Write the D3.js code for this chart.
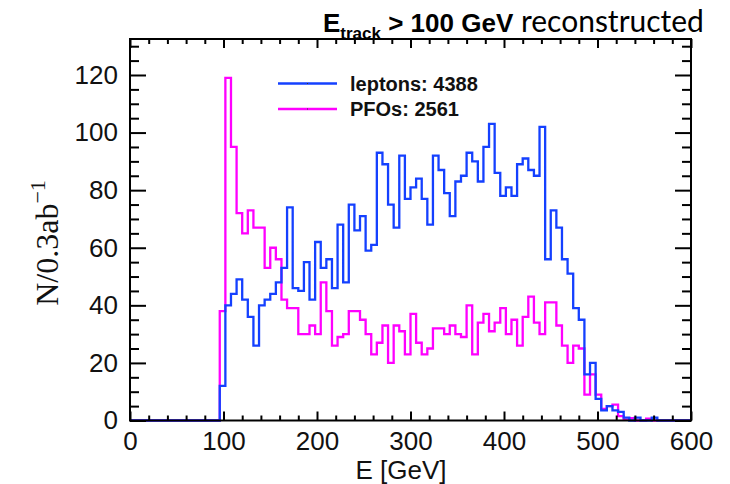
<!DOCTYPE html>
<html>
<head>
<meta charset="utf-8">
<script src="https://cdn.jsdelivr.net/npm/d3@7/dist/d3.min.js"></script>
<style>
  html, body { margin: 0; padding: 0; background: #fff; }
  svg { display: block; }
  .tick text { font-family: "Liberation Sans", Arial, sans-serif; font-size: 26px; fill: #111; }
</style>
</head>
<body>
<svg id="chart" width="730" height="484"></svg>
<script>
// Histogram binning: 100 bins of 6 GeV from 0 to 600 GeV
const binWidth = 6;
const binEdges = d3.range(0, 600 + binWidth, binWidth);

// Entries per bin (N / 0.3 ab^-1)
const leptons = [
  0, 0, 0, 0, 0, 0, 0, 0, 0, 0, 0, 0, 0, 0, 0, 0,
  12, 40, 44, 49, 42, 36, 26, 40, 42, 44,
  48, 53, 74, 46, 45, 55, 42, 62, 53, 56,
  46, 68, 48, 75, 66, 71, 59, 61, 93, 89,
  75, 67, 92, 77, 81, 84, 77, 68, 92, 87,
  79, 71, 83, 85, 93, 90, 83, 95, 103, 86,
  78, 81, 78, 89, 91, 87, 85, 102, 56, 73,
  67, 56, 51, 39, 35, 16, 20, 7.5, 3.5, 5,
  3.5, 3, 1, 0, 1, 0, 0, 1, 0, 0,
  0, 0, 0, 0
];
const pfos = [
  0, 0, 0, 0, 0, 0, 0, 0, 0, 0, 0, 0, 0, 0, 0, 0,
  38, 119, 95, 72, 65, 73, 67, 67, 53, 60,
  56, 42, 39, 39, 30, 30, 33, 30, 48, 38,
  26, 29, 30, 38, 38, 35, 30, 23, 27, 33,
  20, 33, 31, 23, 37, 27, 23, 25, 32, 32,
  30, 33, 30, 29, 40, 23, 34, 37, 31, 34,
  39, 30, 35, 26, 36, 43, 34, 30, 41, 41,
  33, 26, 20, 26, 25, 9, 16, 9, 4, 5,
  5.5, 1.5, 0.3, 0.8, 0, 0, 0.6, 0, 0, 0,
  0, 0, 0, 0
];

const series = [
  { name: "PFOs", total: 2561, values: pfos, color: "#ff00ff" },
  { name: "leptons", total: 4388, values: leptons, color: "#1440ff" }
];
const legendOrder = ["leptons", "PFOs"];

const xTicks = [0, 100, 200, 300, 400, 500, 600];
const yTicks = [0, 20, 40, 60, 80, 100, 120];
const xMinor = d3.range(0, 601, 20).filter(v => v % 100 !== 0);
const yMinor = d3.range(0, 131, 5).filter(v => v % 20 !== 0);

const frame = { left: 130, right: 691, top: 39, bottom: 420.5 };

const svg = d3.select("#chart");

const x = d3.scaleLinear().domain([0, 600]).range([frame.left, frame.right]);
const y = d3.scaleLinear().domain([0, 132.5]).range([frame.bottom, frame.top]);

// Histogram outlines as step lines
const step = d3.line()
  .x(d => x(d[0]))
  .y(d => y(d[1]))
  .curve(d3.curveStepAfter);

series.forEach(s => {
  const pts = s.values.map((v, i) => [binEdges[i], v]);
  pts.push([binEdges[binEdges.length - 1], s.values[s.values.length - 1]]);
  svg.append("path")
    .attr("d", step(pts))
    .attr("fill", "none")
    .attr("stroke", s.color)
    .attr("stroke-width", 2.3)
    .attr("stroke-linejoin", "miter");
});

// Axes with inward ticks on all four sides
function styleAxis(g) {
  g.select(".domain").remove();
  g.selectAll(".tick line").attr("stroke", "#000").attr("stroke-width", 2);
}

svg.append("g")
  .attr("transform", `translate(0,${frame.bottom})`)
  .call(d3.axisBottom(x).tickValues(xMinor).tickSize(-5).tickFormat(""))
  .call(styleAxis);
svg.append("g")
  .attr("transform", `translate(0,${frame.bottom})`)
  .call(d3.axisBottom(x).tickValues(xTicks).tickSize(-9).tickPadding(11).tickFormat(d3.format("d")))
  .call(styleAxis);
svg.append("g")
  .attr("transform", `translate(0,${frame.top})`)
  .call(d3.axisTop(x).tickValues(xMinor).tickSize(-5).tickFormat(""))
  .call(styleAxis);
svg.append("g")
  .attr("transform", `translate(0,${frame.top})`)
  .call(d3.axisTop(x).tickValues(xTicks).tickSize(-9).tickFormat(""))
  .call(styleAxis);

svg.append("g")
  .attr("transform", `translate(${frame.left},0)`)
  .call(d3.axisLeft(y).tickValues(yMinor).tickSize(-9).tickFormat(""))
  .call(styleAxis);
svg.append("g")
  .attr("transform", `translate(${frame.left},0)`)
  .call(d3.axisLeft(y).tickValues(yTicks).tickSize(-16).tickPadding(12).tickFormat(d3.format("d")))
  .call(styleAxis);
svg.append("g")
  .attr("transform", `translate(${frame.right},0)`)
  .call(d3.axisRight(y).tickValues(yMinor).tickSize(-9).tickFormat(""))
  .call(styleAxis);
svg.append("g")
  .attr("transform", `translate(${frame.right},0)`)
  .call(d3.axisRight(y).tickValues(yTicks).tickSize(-16).tickFormat(""))
  .call(styleAxis);

// Frame
svg.append("rect")
  .attr("x", frame.left).attr("y", frame.top)
  .attr("width", frame.right - frame.left)
  .attr("height", frame.bottom - frame.top)
  .attr("fill", "none").attr("stroke", "#000").attr("stroke-width", 2);

// Axis titles
svg.append("text")
  .attr("x", 401).attr("y", 479)
  .attr("text-anchor", "middle")
  .style("font-family", "'Liberation Sans', Arial, sans-serif")
  .style("font-size", "26px").style("fill", "#111")
  .text("E [GeV]");

const yTitle = svg.append("text")
  .attr("transform", "translate(58,243) rotate(-90)")
  .attr("text-anchor", "middle")
  .style("font-family", "'Liberation Serif', 'Times New Roman', serif")
  .style("font-size", "32px").style("fill", "#111");
yTitle.append("tspan").text("N/0.3ab");
yTitle.append("tspan").attr("dy", -13).style("font-size", "22px").text("\u22121");

// Title
const title = svg.append("text")
  .attr("x", 323).attr("y", 32)
  .style("fill", "#000");
title.append("tspan")
  .style("font-family", "'Liberation Sans', Arial, sans-serif")
  .style("font-weight", "bold").style("font-size", "26px").text("E");
title.append("tspan").attr("dy", 7)
  .style("font-family", "'Liberation Sans', Arial, sans-serif")
  .style("font-weight", "bold").style("font-size", "17px").text("track");
title.append("tspan").attr("dy", -7)
  .style("font-family", "'Liberation Sans', Arial, sans-serif")
  .style("font-weight", "bold").style("font-size", "26px").text(" > 100 GeV");
title.append("tspan")
  .style("font-family", "Lato, 'Open Sans', sans-serif")
  .style("font-size", "30px").text(" reconstructed");

// Legend
const legend = svg.append("g");
legendOrder.forEach((name, i) => {
  const s = series.find(d => d.name === name);
  const ly = 83.5 + i * 25.5;
  legend.append("line")
    .attr("x1", 278).attr("x2", 337).attr("y1", ly).attr("y2", ly)
    .attr("stroke", s.color).attr("stroke-width", 2.3);
  legend.append("rect")
    .attr("x", 307).attr("y", ly - 0.5).attr("width", 1).attr("height", 1)
    .attr("fill", "#333");
  legend.append("text")
    .attr("x", 350).attr("y", ly + 7)
    .style("font-family", "'Liberation Sans', Arial, sans-serif")
    .style("font-weight", "bold").style("font-size", "20px").style("fill", "#111")
    .text(`${s.name}: ${s.total}`);
});
</script>
</body>
</html>
